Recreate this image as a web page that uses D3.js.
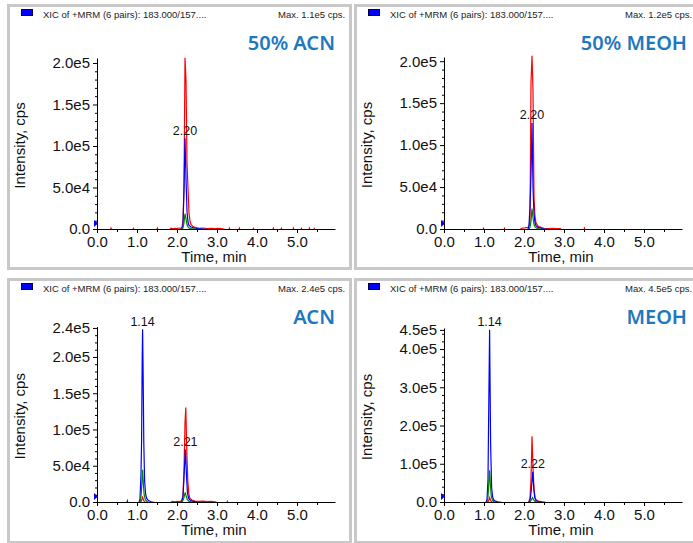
<!DOCTYPE html>
<html>
<head>
<meta charset="utf-8">
<script src="https://cdn.jsdelivr.net/npm/d3@7"></script>
<style>
  body { margin: 0; background: #fff; }
  svg { display: block; }
</style>
</head>
<body>
<svg id="chart" width="693" height="543"></svg>
<script>
// ---- Chromatogram data: [time (min), intensity (cps)] ----
const panelNames = ["50% ACN", "50% MEOH", "ACN", "MEOH"];
const maxLabels = ["Max. 1.1e5 cps.", "Max. 1.2e5 cps.", "Max. 2.4e5 cps.", "Max. 4.5e5 cps."];
const headerText = "XIC of +MRM (6 pairs): 183.000/157....";

const timeTicks = [0, 1, 2, 3, 4, 5];
const timeMinorTicks = [0.5, 1.5, 2.5, 3.5, 4.5, 5.5];

const yTicks1 = [0, 5e4, 1e5, 1.5e5, 2e5];
const yTickLabels1 = ["0.0", "5.0e4", "1.0e5", "1.5e5", "2.0e5"];
const yTicks3 = [0, 5e4, 1e5, 1.5e5, 2e5, 2.4e5];
const yTickLabels3 = ["0.0", "5.0e4", "1.0e5", "1.5e5", "2.0e5", "2.4e5"];
const yTicks4 = [0, 1e5, 2e5, 3e5, 4e5, 4.5e5];
const yTickLabels4 = ["0.0", "1.0e5", "2.0e5", "3.0e5", "4.0e5", "4.5e5"];

// 50% ACN
const acn50Red = [[0,0],[0.34,0],[0.35,1500],[0.36,0],[0.9,0],[0.91,1200],[0.92,0],[1.5,0],[1.51,1500],[1.52,0],
  [1.82,0],[1.85,1500],[1.9,800],[1.95,1500],[2.0,1000],[2.05,1800],[2.1,1500],[2.125,3000],[2.15,10000],[2.175,53000],
  [2.20,207000],[2.225,180000],[2.25,80000],[2.275,50000],[2.30,20000],[2.325,10000],[2.35,6000],[2.40,3500],[2.45,2500],
  [2.55,1500],[2.65,1800],[2.75,1200],[2.85,1500],[2.95,1000],[3.05,1500],[3.15,800],[3.2,0],[3.3,0],[3.31,1500],[3.32,0],
  [3.55,0],[3.56,1500],[3.57,0],[3.9,0],[3.91,1200],[3.92,0],[4.4,0],[4.41,1500],[4.42,0],[4.6,0],[4.61,1300],[4.62,0],
  [4.9,0],[4.91,1500],[4.92,0],[5.1,0],[5.11,1200],[5.12,0],[5.3,0],[5.31,1500],[5.32,0],[5.42,0],[5.43,1200],[5.44,0],[5.95,0]];
const acn50Blue = [[0,0],[2.10,0],[2.125,1500],[2.15,5000],[2.175,48000],[2.20,110000],[2.225,62000],[2.25,22000],
  [2.275,9000],[2.30,5000],[2.35,3000],[2.45,1500],[2.6,800],[2.75,300],[3.2,0],[5.95,0]];
const acn50Green = [[0,0],[2.125,0],[2.15,2000],[2.175,8000],[2.20,19000],[2.225,13000],[2.25,6000],[2.275,3000],
  [2.30,1800],[2.35,1000],[2.45,400],[2.6,0],[5.95,0]];
const acn50Peaks = [[2.20, 110000, "2.20"]];

// 50% MEOH
const meoh50Red = [[0,0],[0.98,0],[0.99,1200],[1.0,0],[1.5,0],[1.51,1200],[1.52,0],[1.9,0],[1.95,1500],[2.02,2000],
  [2.08,2500],[2.12,3000],[2.15,10000],[2.175,175000],[2.20,207000],[2.225,166000],[2.25,38000],[2.275,15000],
  [2.30,8000],[2.35,4000],[2.42,2500],[2.5,1500],[2.6,1200],[2.7,1500],[2.8,1000],[2.9,1200],[2.95,0],[3.5,0],
  [3.51,1500],[3.52,0],[5.95,0]];
const meoh50Blue = [[0,0],[2.10,0],[2.125,5000],[2.15,28000],[2.175,65000],[2.20,127000],[2.225,50000],[2.25,18000],
  [2.275,8000],[2.30,4500],[2.35,2500],[2.45,1200],[2.6,0],[5.95,0]];
const meoh50Green = [[0,0],[2.125,0],[2.15,3000],[2.175,10000],[2.20,25000],[2.225,14000],[2.25,6000],[2.275,3000],
  [2.32,1500],[2.4,500],[2.5,0],[5.95,0]];
const meoh50Peaks = [[2.20, 127000, "2.20"]];

// ACN
const acnRed = [[0,0],[1.09,0],[1.115,3000],[1.14,7000],[1.165,3000],[1.19,1000],[1.22,0],[1.85,0],[1.88,1500],
  [1.95,1000],[2.0,1500],[2.05,1200],[2.1,1800],[2.125,4000],[2.15,10000],[2.175,45000],[2.20,110000],[2.22,131000],
  [2.245,70000],[2.27,30000],[2.295,12000],[2.32,6000],[2.37,3500],[2.45,2000],[2.55,1500],[2.65,1800],[2.75,1200],
  [2.85,1500],[2.95,1000],[3.0,0],[3.25,0],[3.26,1500],[3.27,0],[5.95,0]];
const acnBlue = [[0,0],[0.75,0],[0.76,2000],[0.77,0],[1.05,0],[1.075,5000],[1.10,40000],[1.115,86000],[1.13,200000],
  [1.14,239000],[1.155,170000],[1.17,82000],[1.19,30000],[1.215,12000],[1.24,6000],[1.28,3000],[1.35,1000],[1.45,0],
  [2.10,0],[2.125,2000],[2.15,8000],[2.18,40000],[2.21,73000],[2.235,40000],[2.26,14000],[2.29,6000],[2.33,3000],
  [2.4,1500],[2.5,500],[2.6,0],[5.95,0]];
const acnGreen = [[0,0],[1.075,0],[1.10,8000],[1.12,25000],[1.14,45000],[1.16,25000],[1.18,10000],[1.21,4000],
  [1.25,1500],[1.3,0],[2.12,0],[2.15,3000],[2.18,8000],[2.205,14000],[2.23,9000],[2.26,4000],[2.3,1500],[2.4,0],[5.95,0]];
const acnPeaks = [[1.14, 239000, "1.14"], [2.21, 73000, "2.21"]];

// MEOH
const meohRed = [[0,0],[1.09,0],[1.115,5000],[1.14,13000],[1.165,6000],[1.19,2000],[1.23,0],[2.10,0],[2.125,4000],
  [2.15,12000],[2.175,60000],[2.20,173000],[2.225,90000],[2.25,35000],[2.275,14000],[2.30,7000],[2.35,3500],
  [2.45,1500],[2.55,0],[5.95,0]];
const meohBlue = [[0,0],[1.05,0],[1.075,8000],[1.10,60000],[1.115,214000],[1.14,452000],[1.165,154000],[1.19,40000],
  [1.215,15000],[1.24,7000],[1.28,3500],[1.35,1500],[1.45,0],[2.12,0],[2.15,5000],[2.18,30000],[2.22,80000],
  [2.245,35000],[2.27,12000],[2.3,5000],[2.35,2500],[2.45,800],[2.55,0],[5.95,0]];
const meohGreen = [[0,0],[1.075,0],[1.10,15000],[1.12,50000],[1.14,84000],[1.16,45000],[1.18,18000],[1.21,6000],
  [1.25,2000],[1.3,0],[2.13,0],[2.16,3000],[2.19,8000],[2.215,13000],[2.24,7000],[2.27,3000],[2.32,1000],[2.4,0],[5.95,0]];
const meohPeaks = [[1.14, 452000, "1.14"], [2.22, 80000, "2.22"]];

// ---- Layout ----
const panels = [
  { dx: 0,   dy: 0,   name: panelNames[0], max: maxLabels[0], red: acn50Red, blue: acn50Blue, green: acn50Green, peaks: acn50Peaks,
    yMax: 2.06e5, yBase: 229, yTop: 58, ticks: yTicks1, tickLabels: yTickLabels1, minorStep: 1e4 },
  { dx: 347, dy: 0,   name: panelNames[1], max: maxLabels[1], red: meoh50Red, blue: meoh50Blue, green: meoh50Green, peaks: meoh50Peaks,
    yMax: 2.05e5, yBase: 229, yTop: 57, ticks: yTicks1, tickLabels: yTickLabels1, minorStep: 1e4 },
  { dx: 0,   dy: 274, name: panelNames[2], max: maxLabels[2], red: acnRed, blue: acnBlue, green: acnGreen, peaks: acnPeaks,
    yMax: 2.42e5, yBase: 228, yTop: 52.5, ticks: yTicks3, tickLabels: yTickLabels3, minorStep: 1e4 },
  { dx: 347, dy: 274, name: panelNames[3], max: maxLabels[3], red: meohRed, blue: meohBlue, green: meohGreen, peaks: meohPeaks,
    yMax: 4.55e5, yBase: 228, yTop: 54, ticks: yTicks4, tickLabels: yTickLabels4, minorStep: 2e4 }
];

const svg = d3.select("#chart");
svg.append("rect").attr("width", 693).attr("height", 543).attr("fill", "#fff");

const FONT = "'Liberation Sans', Arial, sans-serif";
const xLeft = 97, xRight = 335, tMax = 5.95;

panels.forEach((p, i) => {
  const g = svg.append("g").attr("transform", `translate(${p.dx},${p.dy})`);

  // frame
  g.append("rect")
    .attr("x", 8.5).attr("y", 5.5).attr("width", 342).attr("height", 263)
    .attr("fill", "#fff").attr("stroke", "#c8c8c8").attr("stroke-width", 3);

  // header
  g.append("rect").attr("x", 21.5).attr("y", 9.5).attr("width", 11).attr("height", 6)
    .attr("fill", "#0000ff").attr("stroke", "#000040").attr("stroke-width", 1);
  g.append("text").attr("x", 43).attr("y", 18).text(headerText)
    .attr("font-family", FONT).attr("font-size", 9.5).attr("fill", "#222");
  g.append("text").attr("x", 278).attr("y", 18).text(p.max)
    .attr("font-family", FONT).attr("font-size", 9.5).attr("fill", "#222");

  // panel title
  g.append("text").attr("x", i % 2 === 0 ? 335 : 340).attr("y", 50).attr("text-anchor", "end")
    .text(p.name).attr("font-family", "'Noto Sans', 'Open Sans', sans-serif")
    .attr("font-size", 20).attr("font-weight", 600).attr("fill", "#1e78c0");

  const x = d3.scaleLinear().domain([0, tMax]).range([xLeft, xRight]);
  const y = d3.scaleLinear().domain([0, p.yMax]).range([p.yBase, p.yTop]);

  // traces are offset half a pixel so their zero level sits exactly on the crisp axis line
  const clipId = "clip" + i;
  g.append("clipPath").attr("id", clipId).append("rect")
    .attr("x", xLeft).attr("y", p.yTop - 2).attr("width", xRight - xLeft).attr("height", p.yBase - p.yTop + 2.5);

  const line = d3.line().x(d => x(d[0])).y(d => y(d[1]) + 0.5);
  const traces = g.append("g").attr("clip-path", `url(#${clipId})`);
  [[p.red, "#ff0000"], [p.blue, "#0000ff"], [p.green, "#008000"]].forEach(([data, color]) => {
    traces.append("path").datum(data).attr("d", line)
      .attr("fill", "none").attr("stroke", color).attr("stroke-width", 1.2);
  });

  // peak retention-time labels
  p.peaks.forEach(([t, v, lab]) => {
    g.append("text").attr("x", x(t)).attr("y", y(v) - 3).attr("text-anchor", "middle")
      .text(lab).attr("font-family", FONT).attr("font-size", 12.5).attr("fill", "#111");
  });

  // minor ticks
  const minorY = d3.range(p.minorStep, p.yMax, p.minorStep).filter(v => !p.ticks.includes(v));
  g.append("g").attr("transform", `translate(${xLeft},0)`)
    .call(d3.axisLeft(y).tickValues(minorY).tickSize(2).tickFormat(""))
    .call(a => a.select(".domain").remove());
  g.append("g").attr("transform", `translate(0,${p.yBase})`)
    .call(d3.axisBottom(x).tickValues(timeMinorTicks).tickSize(3).tickFormat(""))
    .call(a => a.select(".domain").remove());

  // major axes
  const yAxis = g.append("g").attr("transform", `translate(${xLeft},0)`)
    .call(d3.axisLeft(y).tickValues(p.ticks).tickSize(4).tickSizeOuter(0)
      .tickFormat((d, k) => p.tickLabels[k]));
  const xAxis = g.append("g").attr("transform", `translate(0,${p.yBase})`)
    .call(d3.axisBottom(x).tickValues(timeTicks).tickSize(4).tickSizeOuter(0).tickFormat(d3.format(".1f")));
  [yAxis, xAxis].forEach(a => {
    a.selectAll("text").attr("font-family", FONT).attr("font-size", 15).attr("fill", "#111");
    a.selectAll("line, path").attr("stroke", "#000");
  });

  // blue marker on the intensity axis
  g.append("path")
    .attr("d", `M${xLeft - 3},${p.yBase - 9} L${xLeft + 1},${p.yBase - 5.5} L${xLeft - 3},${p.yBase - 2} Z`)
    .attr("fill", "#0000ff");

  // axis titles
  g.append("text").attr("x", (xLeft + xRight) / 2 - 2).attr("y", p.yBase + 33).attr("text-anchor", "middle")
    .text("Time, min").attr("font-family", FONT).attr("font-size", 15).attr("fill", "#111");
  g.append("text")
    .attr("transform", `translate(25,${(p.yBase + p.yTop) / 2 + 2}) rotate(-90)`)
    .attr("text-anchor", "middle").text("Intensity, cps")
    .attr("font-family", FONT).attr("font-size", 15).attr("fill", "#111");
});
</script>
</body>
</html>
